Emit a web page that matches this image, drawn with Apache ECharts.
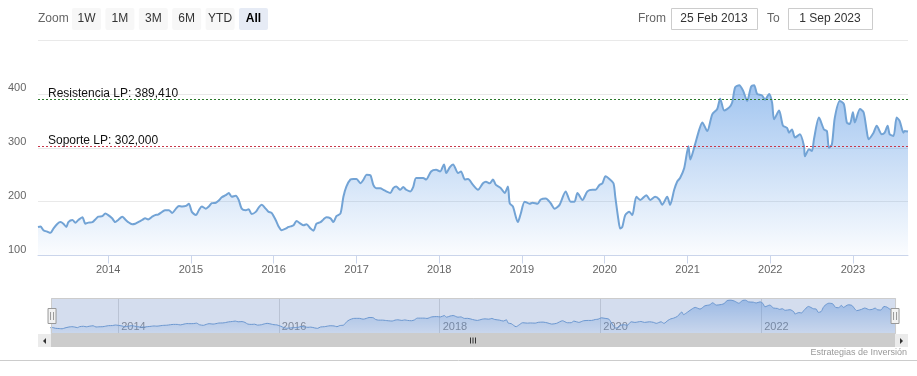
<!DOCTYPE html>
<html>
<head>
<meta charset="utf-8">
<script src="https://cdn.jsdelivr.net/npm/echarts@6/dist/echarts.min.js"></script>
<style>
  html, body { margin: 0; padding: 0; background: #fff; }
  #chart { width: 917px; height: 376px; }
</style>
</head>
<body>
<div id="chart"></div>
<script>
// fechas y cierres
const dates = [
  '2013-02-25','2013-03-08','2013-03-21','2013-04-08','2013-04-21','2013-05-04','2013-05-22','2013-06-04','2013-06-17','2013-06-30','2013-07-09','2013-07-27','2013-08-09','2013-08-22','2013-09-09','2013-09-22','2013-10-05','2013-10-23','2013-11-05','2013-11-18','2013-12-06','2013-12-19',
  '2014-01-01','2014-01-18','2014-02-01','2014-02-14','2014-03-04','2014-03-17','2014-03-30','2014-04-17','2014-04-30','2014-05-13','2014-05-31','2014-06-13','2014-06-26','2014-07-14','2014-07-27','2014-08-09','2014-08-27','2014-09-09','2014-09-26','2014-10-10','2014-10-27','2014-11-09','2014-11-23','2014-12-10','2014-12-23',
  '2015-01-05','2015-01-23','2015-02-05','2015-02-18','2015-03-08','2015-03-21','2015-04-03','2015-04-21','2015-05-04','2015-05-17','2015-06-04','2015-06-17','2015-06-30','2015-07-18','2015-07-31','2015-08-13','2015-08-31','2015-09-13','2015-09-26','2015-10-14','2015-10-27','2015-11-09','2015-11-27','2015-12-10','2015-12-23',
  '2016-01-10','2016-01-23','2016-02-05','2016-02-23','2016-03-07','2016-03-16','2016-03-29','2016-04-11','2016-04-29','2016-05-12','2016-05-25','2016-06-12','2016-06-25','2016-07-08','2016-07-26','2016-08-08','2016-08-21','2016-09-08','2016-09-21','2016-10-04','2016-10-22','2016-11-04','2016-11-17','2016-12-05','2016-12-18',
  '2017-01-01','2017-01-18','2017-02-01','2017-02-14','2017-03-03','2017-03-16','2017-03-29','2017-04-16','2017-04-29','2017-05-12','2017-05-30','2017-06-12','2017-06-25','2017-07-13','2017-07-26','2017-08-08','2017-08-26','2017-09-08','2017-09-21','2017-10-22','2017-11-04','2017-11-26','2017-12-18',
  '2018-01-05','2018-01-22','2018-02-01','2018-02-17','2018-03-03','2018-03-25','2018-04-07','2018-04-24','2018-05-08','2018-05-30','2018-06-21','2018-07-13','2018-07-26','2018-08-12','2018-08-26','2018-09-08','2018-09-30','2018-10-17','2018-10-31','2018-11-08','2018-11-22','2018-12-14','2018-12-27',
  '2019-01-13','2019-02-04','2019-02-17','2019-03-11','2019-03-25','2019-04-16','2019-05-08','2019-05-25','2019-06-16','2019-07-13','2019-08-04','2019-08-21','2019-09-03','2019-09-25','2019-10-17','2019-11-08','2019-11-22','2019-12-09','2019-12-22',
  '2020-01-05','2020-01-22','2020-02-09','2020-02-17','2020-03-02','2020-03-10','2020-03-19','2020-04-01','2020-04-19','2020-05-02','2020-05-20','2020-06-06','2020-07-03','2020-07-20','2020-08-11','2020-08-29','2020-09-11','2020-10-03','2020-10-16','2020-11-03','2020-11-16','2020-11-29','2020-12-17',
  '2021-01-05','2021-01-13','2021-02-01','2021-02-22','2021-03-07','2021-03-29','2021-04-20','2021-05-12','2021-05-25','2021-06-12','2021-07-04','2021-07-17','2021-07-30','2021-08-17','2021-09-03','2021-09-21','2021-10-09','2021-10-22','2021-11-04','2021-11-26','2021-12-09','2021-12-27',
  '2022-01-09','2022-01-18','2022-02-09','2022-02-26','2022-03-16','2022-03-25','2022-04-07','2022-04-20','2022-05-12','2022-05-30','2022-06-03','2022-06-21','2022-07-04','2022-07-13','2022-08-04','2022-08-26','2022-09-08','2022-09-17','2022-09-30','2022-10-13','2022-11-04','2022-11-22','2022-12-05','2022-12-18',
  '2023-01-01','2023-01-09','2023-02-01','2023-02-17','2023-03-03','2023-03-11','2023-04-02','2023-04-16','2023-05-08','2023-05-21','2023-06-03','2023-06-12','2023-06-29','2023-07-13','2023-07-26','2023-08-12','2023-08-17','2023-09-01'
];
const prices = [
  153,154,147,144,142,150,159,162,159,153,162,166,161,166,171,159,161,162,167,172,173,178,
  175,169,162,166,172,167,162,158,159,162,166,169,167,172,175,176,181,184,184,179,187,192,191,192,196,
  181,175,184,191,187,191,197,198,202,208,212,216,209,211,203,187,184,186,177,181,189,194,187,181,179,
  166,154,147,150,153,154,156,164,159,156,158,150,146,159,162,167,171,169,162,173,178,209,228,241,242,
  242,234,241,250,249,231,225,225,222,219,216,225,228,222,227,222,219,227,244,244,241,256,259,
  256,269,253,264,269,253,256,241,242,231,222,234,237,234,241,231,225,216,228,197,191,162,178,
  200,196,198,196,204,206,197,187,194,219,200,200,216,203,219,222,222,231,234,
  247,242,234,209,166,150,153,175,181,175,209,203,212,203,209,204,194,209,194,222,237,244,262,
  303,278,303,334,347,331,362,372,391,369,375,384,412,416,406,387,414,416,400,397,389,400,
  384,353,369,341,337,328,334,319,325,303,284,297,294,316,356,334,331,300,306,356,387,381,347,344,
  366,347,372,366,331,316,328,341,325,328,341,325,322,356,350,328,331,330
];

const startDate = '2013-02-25';
const endDate = '2023-09-01';
const yearTicks = [2014, 2015, 2016, 2017, 2018, 2019, 2020, 2021, 2022, 2023];
const navYearTicks = [2014, 2016, 2018, 2020, 2022];
const levelNames = ['Resistencia LP', 'Soporte LP'];
const levelValues = [389.41, 302.0];
const levelColors = ['#2c7a2c', '#c8374a'];
const zoomButtons = ['1W', '1M', '3M', '6M', 'YTD', 'All'];

const FONT = 'Liberation Sans, Arial, sans-serif';

function ts(d) {
  let p = d.split('-');
  return new Date(+p[0], +p[1] - 1, +p[2]).getTime();
}
const seriesData = dates.map((d, i) => [ts(d), prices[i]]);
const yearTs = yearTicks.map(y => new Date(y, 0, 1).getTime());
const navYearTs = navYearTicks.map(y => new Date(y, 0, 1).getTime());
const yearLabel = v => String(new Date(v).getFullYear());

function fmtEs(v) {
  return v.toFixed(3).replace('.', ',');
}

let myChart = echarts.init(document.getElementById('chart'));

// toolbar del range selector y scrollbar dibujados como graphic
let graphics = [];
graphics.push({ type: 'text', style: { text: 'Zoom', x: 38, y: 19, fill: '#666', font: '12px ' + FONT, verticalAlign: 'middle' } });
zoomButtons.forEach((b, i) => {
  let bx = 72 + i * 33.4;
  let sel = b === 'All';
  graphics.push({ type: 'rect', shape: { x: bx, y: 8, width: 29, height: 22, r: 2 }, style: { fill: sel ? '#e6ebf5' : '#f7f7f7' } });
  graphics.push({ type: 'text', style: { text: b, x: bx + 14.5, y: 19, fill: sel ? '#000' : '#333', font: (sel ? 'bold ' : '') + '12px ' + FONT, align: 'center', verticalAlign: 'middle' } });
});
graphics.push({ type: 'text', style: { text: 'From', x: 638, y: 19, fill: '#666', font: '12px ' + FONT, verticalAlign: 'middle' } });
graphics.push({ type: 'rect', shape: { x: 671.5, y: 8.5, width: 86, height: 21 }, style: { fill: '#fff', stroke: '#cccccc', lineWidth: 1 } });
graphics.push({ type: 'text', style: { text: '25 Feb 2013', x: 714, y: 19, fill: '#333', font: '12px ' + FONT, align: 'center', verticalAlign: 'middle' } });
graphics.push({ type: 'text', style: { text: 'To', x: 767, y: 19, fill: '#666', font: '12px ' + FONT, verticalAlign: 'middle' } });
graphics.push({ type: 'rect', shape: { x: 788.5, y: 8.5, width: 84, height: 21 }, style: { fill: '#fff', stroke: '#cccccc', lineWidth: 1 } });
graphics.push({ type: 'text', style: { text: '1 Sep 2023', x: 830, y: 19, fill: '#333', font: '12px ' + FONT, align: 'center', verticalAlign: 'middle' } });

// scrollbar
graphics.push({ type: 'rect', shape: { x: 38, y: 334, width: 870, height: 13 }, style: { fill: '#cccccc' } });
graphics.push({ type: 'rect', shape: { x: 38, y: 334, width: 13, height: 13 }, style: { fill: '#ebebeb' } });
graphics.push({ type: 'rect', shape: { x: 895, y: 334, width: 13, height: 13 }, style: { fill: '#ebebeb' } });
graphics.push({ type: 'polygon', shape: { points: [[46, 338], [46, 344], [43, 341]] }, style: { fill: '#333' } });
graphics.push({ type: 'polygon', shape: { points: [[900, 338], [900, 344], [903, 341]] }, style: { fill: '#333' } });
[-2.5, 0, 2.5].forEach(dx => {
  graphics.push({ type: 'line', shape: { x1: 473 + dx, y1: 337.5, x2: 473 + dx, y2: 343.5 }, style: { stroke: '#333', lineWidth: 1 } });
});
graphics.push({ type: 'text', style: { text: 'Estrategias de Inversión', x: 907, y: 353, fill: '#999', font: '9px ' + FONT, align: 'right', verticalAlign: 'middle' } });
graphics.push({ type: 'line', shape: { x1: 0, y1: 360.5, x2: 917, y2: 360.5 }, style: { stroke: '#cccccc', lineWidth: 1 } });

myChart.setOption({
  animation: false,
  backgroundColor: '#fff',
  textStyle: { fontFamily: FONT },
  grid: [
    { left: 38, right: 9, top: 40, height: 215.5 },
    { left: 50, right: 22, top: 298, height: 36 }
  ],
  xAxis: [
    {
      type: 'value', gridIndex: 0, min: ts(startDate), max: ts(endDate),
      axisLine: { lineStyle: { color: '#ccd6eb' } },
      axisTick: { show: true, length: 8, lineStyle: { color: '#ccd6eb' }, customValues: yearTs },
      axisLabel: { customValues: yearTs, formatter: yearLabel, color: '#666', fontSize: 11, margin: 9 },
      splitLine: { show: false }
    },
    {
      type: 'value', gridIndex: 1, min: ts(startDate), max: ts(endDate),
      axisLine: { show: false },
      axisTick: { show: false, customValues: navYearTs },
      axisLabel: { customValues: navYearTs, inside: true, formatter: yearLabel, color: '#8a8a8a', fontSize: 11, align: 'left', margin: 2, padding: [0, 0, 0, 3] },
      splitLine: { show: true, lineStyle: { color: '#dcdcdc' } }
    }
  ],
  yAxis: [
    {
      type: 'value', gridIndex: 0, min: 100, max: 500, interval: 100,
      axisLine: { show: false }, axisTick: { show: false },
      axisLabel: { showMaxLabel: false, color: '#666', fontSize: 11, align: 'left', margin: 30, verticalAlign: 'bottom' },
      splitLine: { lineStyle: { color: '#e9e9e9' } }
    },
    {
      type: 'value', gridIndex: 1, min: 92, max: 437,
      show: false, splitLine: { show: false }
    }
  ],
  dataZoom: [{
    type: 'slider', xAxisIndex: 0, start: 0, end: 100,
    left: 50, right: 22, top: 298, height: 36,
    showDataShadow: false, showDetail: false, brushSelect: false,
    backgroundColor: 'rgba(0,0,0,0)', borderColor: '#cccccc',
    fillerColor: 'rgba(102,133,194,0.28)',
    handleIcon: 'path://M-4,-7.5 h8 v15 h-8 z M-1.5,-4 v8 M1.5,-4 v8',
    handleSize: 15,
    handleStyle: { color: '#f2f2f2', borderColor: '#999', borderWidth: 1 },
    moveHandleSize: 0,
    moveHandleStyle: { opacity: 0 },
    emphasis: { handleStyle: { color: '#f2f2f2', borderColor: '#999' } }
  }],
  series: [
    {
      type: 'line', xAxisIndex: 0, yAxisIndex: 0,
      data: seriesData,
      showSymbol: false, smooth: 0.25,
      lineStyle: { color: '#72a3d5', width: 2 },
      itemStyle: { color: '#72a3d5' },
      areaStyle: {
        color: new echarts.graphic.LinearGradient(0, 0, 0, 1, [
          { offset: 0, color: 'rgba(70,140,225,0.72)' },
          { offset: 1, color: 'rgba(70,140,225,0.03)' }
        ])
      },
      markLine: {
        silent: true, symbol: 'none', animation: false,
        data: levelValues.map((v, i) => ({
          yAxis: v,
          lineStyle: { color: levelColors[i], type: [2, 2], width: 1 },
          label: {
            show: true, position: 'insideStartTop', distance: [10, 0],
            formatter: levelNames[i] + ': ' + fmtEs(v),
            color: '#111', fontSize: 12, fontFamily: FONT
          }
        }))
      }
    },
    {
      type: 'line', xAxisIndex: 1, yAxisIndex: 1,
      data: seriesData,
      showSymbol: false, smooth: 0.25,
      lineStyle: { color: '#6f9fd6', width: 1 },
      areaStyle: {
        color: new echarts.graphic.LinearGradient(0, 0, 0, 1, [
          { offset: 0, color: 'rgba(70,140,225,0.6)' },
          { offset: 1, color: 'rgba(70,140,225,0.1)' }
        ])
      }
    }
  ],
  graphic: graphics
});

window.onresize = function () {
  myChart.resize();
};
</script>
</body>
</html>
